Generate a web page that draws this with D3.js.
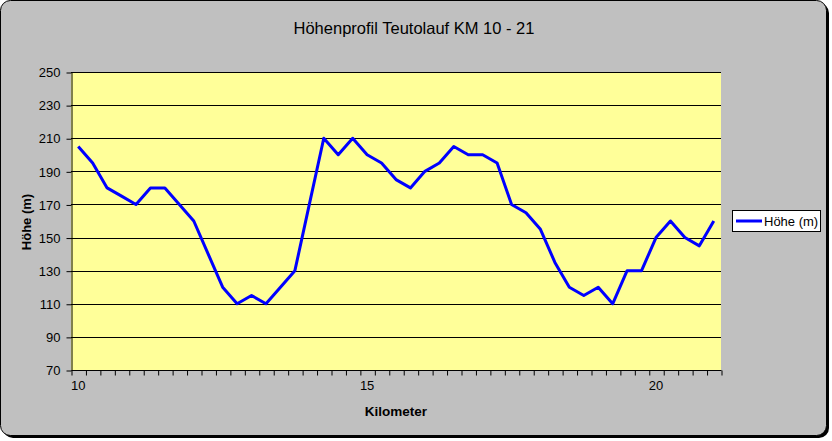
<!DOCTYPE html>
<html>
<head>
<meta charset="utf-8">
<script src="https://cdn.jsdelivr.net/npm/d3@7"></script>
<style>
  html, body { margin: 0; padding: 0; background: #ffffff; }
  svg { display: block; }
  text { font-family: "Liberation Sans", Arial, sans-serif; }
</style>
</head>
<body>
<svg id="chart" width="832" height="441"></svg>
<script>
// ---- data ----
const kilometers = [10, 10.25, 10.5, 10.75, 11, 11.25, 11.5, 11.75, 12, 12.25, 12.5, 12.75,
  13, 13.25, 13.5, 13.75, 14, 14.25, 14.5, 14.75, 15, 15.25, 15.5, 15.75,
  16, 16.25, 16.5, 16.75, 17, 17.25, 17.5, 17.75, 18, 18.25, 18.5, 18.75,
  19, 19.25, 19.5, 19.75, 20, 20.25, 20.5, 20.75, 21];
const hoehe = [205, 195, 180, 175, 170, 180, 180, 170, 160, 140, 120, 110,
  115, 110, 120, 130, 170, 210, 200, 210, 200, 195, 185, 180,
  190, 195, 205, 200, 200, 195, 170, 165, 155, 135, 120, 115,
  120, 110, 130, 130, 150, 160, 150, 145, 160];
const xTickLabels = [10, 15, 20];
const yTicks = [70, 90, 110, 130, 150, 170, 190, 210, 230, 250];
const seriesName = "Höhe (m)";
const chartTitle = "Höhenprofil Teutolauf KM 10 - 21";
const xTitle = "Kilometer";
const yTitle = "Höhe (m)";

// ---- layout ----
const svg = d3.select("#chart");
const plot = { left: 71, right: 721, top: 72, bottom: 370 };

// chart area with shadow
svg.append("rect").attr("x", 3).attr("y", 3).attr("width", 826).attr("height", 435)
  .attr("rx", 10).attr("fill", "#000");
svg.append("rect").attr("x", 0.5).attr("y", 0.5).attr("width", 826).attr("height", 435)
  .attr("rx", 10).attr("fill", "#C0C0C0").attr("stroke", "#000").attr("stroke-width", 1);

// scales
const x = d3.scaleBand().domain(kilometers).range([plot.left, plot.right]).padding(0);
const y = d3.scaleLinear().domain([70, 250]).range([plot.bottom, plot.top]);
const cx = d => x(d) + x.bandwidth() / 2;

// plot background
svg.append("rect").attr("x", plot.left).attr("y", plot.top)
  .attr("width", plot.right - plot.left).attr("height", plot.bottom - plot.top)
  .attr("fill", "#FFFF99");

// gridlines
svg.append("g").selectAll("line").data(yTicks.filter(v => v > 70)).join("line")
  .attr("x1", plot.left).attr("x2", plot.right)
  .attr("y1", d => Math.round(y(d)) + 0.5).attr("y2", d => Math.round(y(d)) + 0.5)
  .attr("stroke", "#000").attr("stroke-width", 1);

// y axis
const yAxis = d3.axisLeft(y).tickValues(yTicks).tickSize(5).tickSizeOuter(0).tickPadding(6);
const gy = svg.append("g").attr("transform", `translate(${plot.left + 0.5},0.5)`).call(yAxis);
gy.selectAll("text").attr("font-size", 13).attr("fill", "#000")
  .attr("font-family", "'Liberation Sans', Arial, sans-serif");
gy.selectAll("line, path").attr("stroke", "#000");

// x axis: ticks between categories
const boundaries = kilometers.map(k => x(k)).concat([plot.right]);
const xLin = d3.scaleLinear().domain([plot.left, plot.right]).range([plot.left, plot.right]);
const xAxis = d3.axisBottom(xLin).tickValues(boundaries).tickSize(5).tickSizeOuter(0).tickFormat("");
const gx = svg.append("g").attr("transform", `translate(0.5,${plot.bottom + 0.5})`).call(xAxis);
gx.selectAll("line, path").attr("stroke", "#000");
gx.select("path").attr("d", `M${plot.left},0H${plot.right}`);

svg.append("g").selectAll("text").data(xTickLabels).join("text")
  .attr("x", d => cx(d)).attr("y", 390)
  .attr("text-anchor", "middle").attr("font-size", 13).attr("fill", "#000")
  .text(d => d);

// series line
const line = d3.line().x((d, i) => cx(kilometers[i])).y(d => y(d));
svg.append("path").datum(hoehe).attr("d", line)
  .attr("fill", "none").attr("stroke", "#0000FF").attr("stroke-width", 3)
  .attr("stroke-linejoin", "round");

// titles
svg.append("text").attr("x", 414).attr("y", 34).attr("text-anchor", "middle")
  .attr("font-size", 16.5).attr("fill", "#000").text(chartTitle);
svg.append("text").attr("x", (plot.left + plot.right) / 2).attr("y", 416)
  .attr("text-anchor", "middle").attr("font-size", 13.5).attr("font-weight", "bold")
  .attr("fill", "#000").text(xTitle);
svg.append("text").attr("transform", `translate(31,${(plot.top + plot.bottom) / 2 + 1}) rotate(-90)`)
  .attr("text-anchor", "middle").attr("font-size", 13).attr("font-weight", "bold")
  .attr("fill", "#000").text(yTitle);

// legend
const lg = svg.append("g");
lg.append("rect").attr("x", 732.5).attr("y", 210.5).attr("width", 88).attr("height", 21)
  .attr("fill", "#fff").attr("stroke", "#000");
lg.append("line").attr("x1", 736).attr("x2", 762).attr("y1", 221).attr("y2", 221)
  .attr("stroke", "#0000FF").attr("stroke-width", 3);
lg.append("text").attr("x", 764).attr("y", 225.5).attr("font-size", 13).attr("fill", "#000")
  .text(seriesName);
</script>
</body>
</html>
